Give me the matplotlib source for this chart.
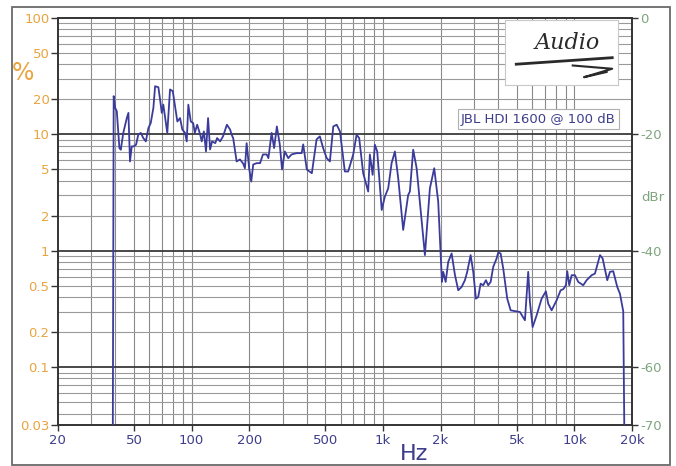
import numpy as np
import matplotlib
matplotlib.use("Agg")
import matplotlib.pyplot as plt
from matplotlib.patches import Rectangle

# THD (%) vs frequency
freq_hz = [38.8, 39.2, 39.9, 40.7, 42.0, 42.7, 44.0, 45.9, 46.8, 47.7,
           48.7, 49.7, 51.3, 52.7, 54.3, 56.0, 57.7, 59.5, 61.2, 63.2,
           64.5, 67.1, 68.5, 69.9, 71.2, 73.3, 74.7, 77.2, 79.8, 82.0,
           84.3, 87.1, 89.5, 92.5, 94.4, 96.2, 99.1, 102, 104, 107,
           111, 113, 116, 119, 122, 125, 128, 133, 136, 141,
           146, 150, 153, 159, 162, 165, 172, 179, 186, 190,
           194, 200, 205, 210, 219, 228, 236, 247, 252, 262,
           270, 279, 289, 297, 307, 320, 333, 354, 376, 383,
           400, 425, 450, 468, 487, 508, 528, 550, 573, 596,
           632, 658, 699, 728, 751, 788, 837, 854, 883, 907,
           933, 985, 1023, 1065, 1109, 1154, 1201, 1275, 1354, 1382,
           1438, 1499, 1656, 1758, 1852, 1943, 2032, 2064, 2125, 2192,
           2283, 2376, 2472, 2575, 2679, 2754, 2869, 2961, 3058, 3144,
           3236, 3339, 3449, 3545, 3650, 3766, 3922, 3999, 4116, 4247,
           4457, 4643, 4948, 5192, 5513, 5736, 5855, 6048, 6346, 6739,
           7097, 7296, 7601, 8072, 8472, 8741, 9029, 9172, 9395, 9672,
           10060, 10470, 11120, 11580, 12300, 12800, 13600, 14040, 14840, 15330,
           15950, 16740, 17290, 17990, 18210]
thd_pct = [0.0316, 21.3, 16.9, 15.8, 7.62, 7.38, 10.3, 13.8, 15.3, 5.85,
           7.88, 7.88, 8.15, 9.94, 10.3, 9.29, 8.70, 11.3, 12.5, 16.9,
           25.9, 25.4, 19.9, 15.3, 18.0, 12.9, 10.3, 24.3, 23.5, 17.4,
           12.9, 13.8, 11.0, 10.3, 8.70, 18.0, 12.9, 12.5, 10.3, 12.1,
           9.94, 8.70, 10.6, 7.13, 13.8, 7.42, 8.70, 8.41, 9.29, 8.70,
           9.61, 11.0, 12.1, 11.0, 9.94, 9.29, 5.85, 6.09, 5.62, 5.12,
           8.41, 5.09, 3.93, 5.51, 5.66, 5.66, 6.72, 6.72, 6.25, 10.3,
           7.62, 11.7, 8.20, 4.99, 7.13, 6.25, 6.72, 6.90, 6.90, 8.20,
           4.99, 4.64, 9.06, 9.61, 7.62, 6.25, 5.85, 11.7, 12.1, 10.6,
           4.80, 4.80, 6.72, 9.94, 9.29, 4.64, 3.23, 6.72, 4.49, 8.15,
           7.13, 2.24, 2.92, 3.44, 5.66, 7.13, 4.20, 1.51, 3.02, 3.23,
           7.38, 5.12, 0.918, 3.44, 5.12, 2.64, 0.540, 0.659, 0.540, 0.804,
           0.948, 0.621, 0.458, 0.489, 0.559, 0.659, 0.918, 0.659, 0.388, 0.401,
           0.522, 0.506, 0.559, 0.506, 0.540, 0.728, 0.859, 0.967, 0.948, 0.704,
           0.388, 0.308, 0.302, 0.298, 0.253, 0.659, 0.363, 0.221, 0.279, 0.388,
           0.449, 0.351, 0.308, 0.376, 0.458, 0.468, 0.506, 0.668, 0.506, 0.617,
           0.617, 0.540, 0.506, 0.559, 0.617, 0.637, 0.918, 0.859, 0.559, 0.659,
           0.668, 0.489, 0.428, 0.302, 0.0316]

x_ticks = [20, 50, 100, 200, 500, 1000, 2000, 5000, 10000, 20000]
x_labels = ["20", "50", "100", "200", "500", "1k", "2k", "5k", "10k", "20k"]
y_ticks = [100, 50, 20, 10, 5, 2, 1, 0.5, 0.2, 0.1, 0.0316]
y_labels = ["100", "50", "20", "10", "5", "2", "1", "0.5", "0.2", "0.1", "0.03"]
db_ticks = [0, -20, -40, -60, -70]
legend_text = "JBL HDI 1600 @ 100 dB"

orange = "#E9A43F"
green = "#7FA57F"
navy = "#3D3D8C"
line_col = "#3B3B9C"

fig = plt.figure(figsize=(6.76, 4.66), dpi=100)
fig.patch.set_facecolor("white")
ax = fig.add_axes([0.0854, 0.087, 0.8496, 0.8745])
ax.set_xscale("log")
ax.set_yscale("log")
ax.set_xlim(20, 20000)
ax.set_ylim(0.0316, 100)

# grid: vertical lines at every 1-9 step of each decade
for dec in [10, 100, 1000, 10000]:
    for m in range(1, 10):
        v = dec * m
        if 20 < v < 20000:
            ax.axvline(v, color="#8a8a8a", lw=0.8, zorder=1)
# horizontal minor lines and darker decade lines
for dec in [0.01, 0.1, 1, 10]:
    for m in range(2, 10):
        v = dec * m
        if 0.0316 < v < 100:
            ax.axhline(v, color="#9a9a9a", lw=0.8, zorder=1)
for v in [0.1, 1, 10]:
    ax.axhline(v, color="#3a3a3a", lw=1.3, zorder=2)

ax.plot(freq_hz, thd_pct, color=line_col, lw=1.3, zorder=5)

ax.set_xticks(x_ticks)
ax.set_xticklabels(x_labels)
ax.xaxis.set_minor_locator(matplotlib.ticker.NullLocator())
ax.set_yticks(y_ticks)
ax.set_yticklabels(y_labels)
ax.yaxis.set_minor_locator(matplotlib.ticker.NullLocator())
ax.tick_params(axis="x", colors="#333333", labelcolor=navy, labelsize=9.5,
               length=4, width=1, pad=2)
ax.tick_params(axis="y", colors="#333333", labelcolor=orange, labelsize=9.5,
               length=5, width=1, pad=1)
for s in ax.spines.values():
    s.set_color("#333333")
    s.set_linewidth(1.4)

ax2 = ax.twinx()
ax2.set_ylim(-70, 0)
ax2.set_yticks(db_ticks)
ax2.set_yticklabels([str(t) for t in db_ticks])
ax2.tick_params(axis="y", colors="#333333", labelcolor=green, labelsize=9.5,
                length=4, width=1, pad=2)
for s in ax2.spines.values():
    s.set_visible(False)

fig.text(0.034, 0.843, "%", color=orange, fontsize=17, ha="center", va="center")
fig.text(0.965, 0.577, "dBr", color=green, fontsize=9.5, ha="center", va="center")
fig.text(0.6124, 0.026, "Hz", color=navy, fontsize=16, ha="center", va="center")

ax.text(0.837, 0.752, legend_text, transform=ax.transAxes, ha="center",
        va="center", fontsize=9.5, color=navy, zorder=8,
        bbox=dict(boxstyle="square,pad=0.25", fc="white", ec="#b0b0b0", lw=0.8))

# logo box
lax = fig.add_axes([0.747, 0.8176, 0.167, 0.1395])
lax.set_xticks([])
lax.set_yticks([])
for s in lax.spines.values():
    s.set_color("#c8c8c8")
    s.set_linewidth(0.8)
lax.set_xlim(0, 1)
lax.set_ylim(0, 1)
lax.text(0.55, 0.64, "Audio", fontsize=16, family="DejaVu Serif",
         style="italic", color="#2a2a2a", ha="center", va="center")
lax.plot([0.1, 0.95], [0.32, 0.42], color="#2a2a2a", lw=2)
lax.plot([0.6, 0.95, 0.7, 0.9], [0.3, 0.25, 0.12, 0.2], color="#2a2a2a", lw=1.5)

fig.patches.append(Rectangle((0.0178, 0.003), 0.973, 0.982, transform=fig.transFigure,
                             fill=False, ec="#6a6a6a", lw=1.3))

fig.savefig("out.png", dpi=100)
